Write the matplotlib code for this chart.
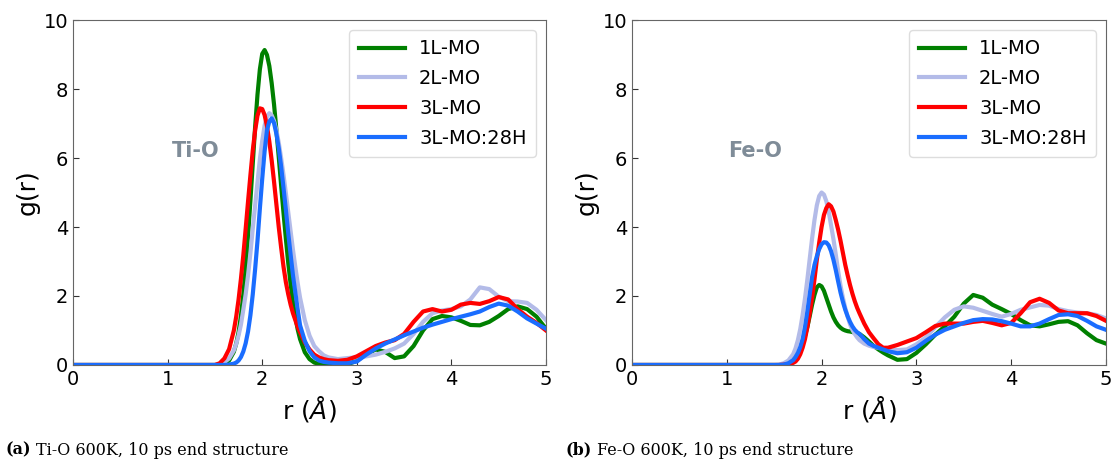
import matplotlib
matplotlib.use("Agg")
import matplotlib.pyplot as plt

# sampled r grid (Å), shared by both panels; finer steps across the first peak
r = [0.0, 1.0, 1.5, 1.55, 1.6, 1.65,
     1.7, 1.725, 1.75, 1.775, 1.8, 1.825, 1.85, 1.875, 1.9, 1.925, 1.95, 1.975,
     2.0, 2.025, 2.05, 2.075, 2.1, 2.125, 2.15, 2.175, 2.2, 2.225, 2.25, 2.275,
     2.3, 2.325, 2.35, 2.375, 2.4,
     2.45, 2.5, 2.55, 2.6, 2.65, 2.7,
     2.8, 2.9, 3.0, 3.1, 3.2, 3.3, 3.4, 3.5, 3.6, 3.7, 3.8, 3.9, 4.0, 4.1,
     4.2, 4.3, 4.4, 4.5, 4.6, 4.7, 4.8, 4.9, 5.0]

labels = ["1L-MO", "2L-MO", "3L-MO", "3L-MO:28H"]
colors = ["#008000", "#b3bbe8", "#ff0000", "#1a6dff"]

# Ti-O partial g(r)
tio_1l = [0, 0, 0, 0.01, 0.04, 0.13,
          0.38, 0.62, 0.95, 1.42, 2.04, 2.81, 3.73, 4.76, 5.84, 6.9, 7.84, 8.57,
          9.02, 9.13, 8.99, 8.67, 8.17, 7.55, 6.81, 6.02, 5.2, 4.41, 3.66, 2.96,
          2.35, 1.83, 1.39, 1.03, 0.75,
          0.37, 0.17, 0.07, 0.03, 0.01, 0.0,
          0.0, 0.02, 0.12, 0.32, 0.45, 0.38, 0.2, 0.25, 0.55, 1.0, 1.33, 1.42, 1.38, 1.28,
          1.16, 1.15, 1.25, 1.42, 1.62, 1.7, 1.62, 1.4, 1.05]
tio_2l = [0, 0, 0, 0.02, 0.08, 0.19,
          0.42, 0.61, 0.86, 1.17, 1.6, 2.05, 2.6, 3.24, 3.95, 4.62, 5.3, 5.96,
          6.5, 6.94, 7.2, 7.3, 7.24, 7.08, 6.8, 6.44, 6.0, 5.51, 4.98, 4.43,
          3.88, 3.34, 2.84, 2.37, 1.95,
          1.3, 0.85, 0.55, 0.4, 0.28, 0.22,
          0.17, 0.2, 0.22, 0.25, 0.3, 0.38, 0.48, 0.62, 0.9, 1.25, 1.5, 1.58, 1.62, 1.7,
          1.9, 2.25, 2.2, 1.98, 1.85, 1.84, 1.8, 1.6, 1.3]
tio_3l = [0, 0, 0, 0.05, 0.19, 0.46,
          1.0, 1.4, 1.9, 2.5, 3.18, 3.95, 4.74, 5.5, 6.22, 6.8, 7.23, 7.44,
          7.42, 7.25, 6.93, 6.48, 5.93, 5.31, 4.65, 3.99, 3.4, 2.85, 2.4, 2.05,
          1.75, 1.5, 1.3, 1.1, 0.95,
          0.65, 0.45, 0.3, 0.22, 0.17, 0.14,
          0.12, 0.15, 0.25, 0.4, 0.55, 0.65, 0.72, 0.9, 1.25, 1.55, 1.62, 1.55, 1.6, 1.75,
          1.8, 1.77, 1.85, 1.97, 1.9, 1.62, 1.4, 1.22, 1.0]
tio_28h = [0, 0, 0, 0, 0, 0.01,
           0.04, 0.07, 0.13, 0.23, 0.39, 0.63, 0.97, 1.44, 2.05, 2.78, 3.6, 4.53,
           5.4, 6.19, 6.8, 7.06, 7.15, 7.01, 6.7, 6.28, 5.75, 5.13, 4.5, 3.82,
           3.2, 2.6, 2.1, 1.61, 1.15,
           0.7, 0.4, 0.22, 0.13, 0.09, 0.07,
           0.05, 0.05, 0.1, 0.3, 0.48, 0.62, 0.74, 0.86, 0.97, 1.08, 1.17, 1.25, 1.33, 1.4,
           1.47, 1.55, 1.68, 1.78, 1.72, 1.55, 1.35, 1.2, 1.05]

# Fe-O partial g(r)
feo_1l = [0, 0, 0, 0, 0.01, 0.04,
          0.12, 0.2, 0.3, 0.44, 0.62, 0.84, 1.1, 1.42, 1.75, 2.03, 2.25, 2.32,
          2.28, 2.15, 1.95, 1.75, 1.55, 1.38, 1.25, 1.15, 1.08, 1.03, 1.0, 0.98,
          0.97, 0.955, 0.94, 0.92, 0.9,
          0.8, 0.68, 0.55, 0.45, 0.36, 0.28,
          0.15, 0.17, 0.35, 0.6, 0.88, 1.12, 1.4, 1.78, 2.03, 1.95, 1.75, 1.62, 1.48, 1.3,
          1.15, 1.12, 1.18, 1.25, 1.27, 1.15, 0.92, 0.72, 0.62]
feo_2l = [0, 0, 0, 0.01, 0.05, 0.13,
          0.31, 0.48, 0.72, 1.04, 1.45, 1.93, 2.48, 3.08, 3.67, 4.2, 4.63, 4.9,
          5.0, 4.94, 4.75, 4.45, 4.05, 3.65, 3.2, 2.72, 2.3, 1.95, 1.65, 1.4,
          1.18, 1.02, 0.9, 0.8, 0.72,
          0.62, 0.56, 0.52, 0.5, 0.47, 0.45,
          0.43, 0.45, 0.6, 0.8, 1.1, 1.38, 1.6, 1.7, 1.66, 1.57, 1.48, 1.4, 1.48, 1.6,
          1.67, 1.74, 1.72, 1.62, 1.56, 1.52, 1.5, 1.45, 1.35]
feo_3l = [0, 0, 0, 0, 0.01, 0.03,
          0.06, 0.1, 0.18, 0.31, 0.5, 0.75, 1.1, 1.5, 1.95, 2.48, 3.05, 3.55,
          4.0, 4.35, 4.55, 4.66, 4.6, 4.45, 4.2, 3.92, 3.6, 3.25, 2.9, 2.6,
          2.32, 2.07, 1.85, 1.66, 1.5,
          1.2, 0.95, 0.77, 0.6, 0.5, 0.5,
          0.58, 0.68, 0.78, 0.95, 1.13, 1.2, 1.2, 1.2, 1.25, 1.28, 1.22, 1.15, 1.22, 1.5,
          1.82, 1.92, 1.8, 1.58, 1.5, 1.5, 1.5, 1.42, 1.28]
feo_28h = [0, 0, 0, 0, 0.01, 0.05,
           0.14, 0.23, 0.35, 0.52, 0.75, 1.1, 1.55, 2.05, 2.55, 2.9, 3.15, 3.36,
           3.5, 3.56, 3.55, 3.47, 3.3, 3.05, 2.75, 2.42, 2.1, 1.83, 1.6, 1.41,
           1.25, 1.12, 1.02, 0.95, 0.9,
           0.75, 0.62, 0.55, 0.5, 0.45, 0.4,
           0.34, 0.37, 0.5, 0.7, 0.88, 1.02, 1.12, 1.22, 1.3, 1.33, 1.32, 1.27, 1.2, 1.12,
           1.12, 1.2, 1.33, 1.45, 1.47, 1.42, 1.28, 1.12, 1.02]

panels = [
    ("Ti-O", [tio_1l, tio_2l, tio_3l, tio_28h], "(a)", "Ti-O 600K, 10 ps end structure"),
    ("Fe-O", [feo_1l, feo_2l, feo_3l, feo_28h], "(b)", "Fe-O 600K, 10 ps end structure"),
]

fig = plt.figure(figsize=(11.15, 4.63), dpi=100)
rects = [[0.0655, 0.2117, 0.4242, 0.745], [0.5668, 0.2117, 0.4251, 0.745]]
cap_x = [0.005, 0.507]

for k, (pair, series, tag, caption) in enumerate(panels):
    ax = fig.add_axes(rects[k])
    for g, lab, col in zip(series, labels, colors):
        ax.plot(r, g, color=col, lw=3, label=lab, solid_joinstyle="round")
    ax.set_xlim(0, 5)
    ax.set_ylim(0, 10)
    ax.set_xticks([0, 1, 2, 3, 4, 5])
    ax.set_yticks([0, 2, 4, 6, 8, 10])
    ax.tick_params(direction="in", labelsize=14, color="#333333", length=4)
    for sp in ax.spines.values():
        sp.set_color("#666666")
    ax.set_xlabel(r"r ($\mathit{Å}$)", fontsize=18, labelpad=4)
    ax.set_ylabel("g(r)", fontsize=18, labelpad=3)
    ax.text(1.3, 6.2, pair, fontsize=15, fontweight="bold", color="#7f8c98",
            ha="center", va="center")
    ax.legend(loc="upper right", fontsize=14, handlelength=2.4, labelspacing=0.55,
              handletextpad=0.7, borderpad=0.5, framealpha=1, edgecolor="#dddddd")

    t = fig.text(cap_x[k], 0.018, tag, fontsize=11.5, fontweight="bold",
                 family="DejaVu Serif", va="baseline")
    fig.canvas.draw()
    bb = t.get_window_extent()
    fig.text((bb.x1 + 5) / fig.bbox.width, 0.018, caption, fontsize=11.5,
             family="DejaVu Serif", va="baseline")

fig.savefig("out.png", dpi=100)
